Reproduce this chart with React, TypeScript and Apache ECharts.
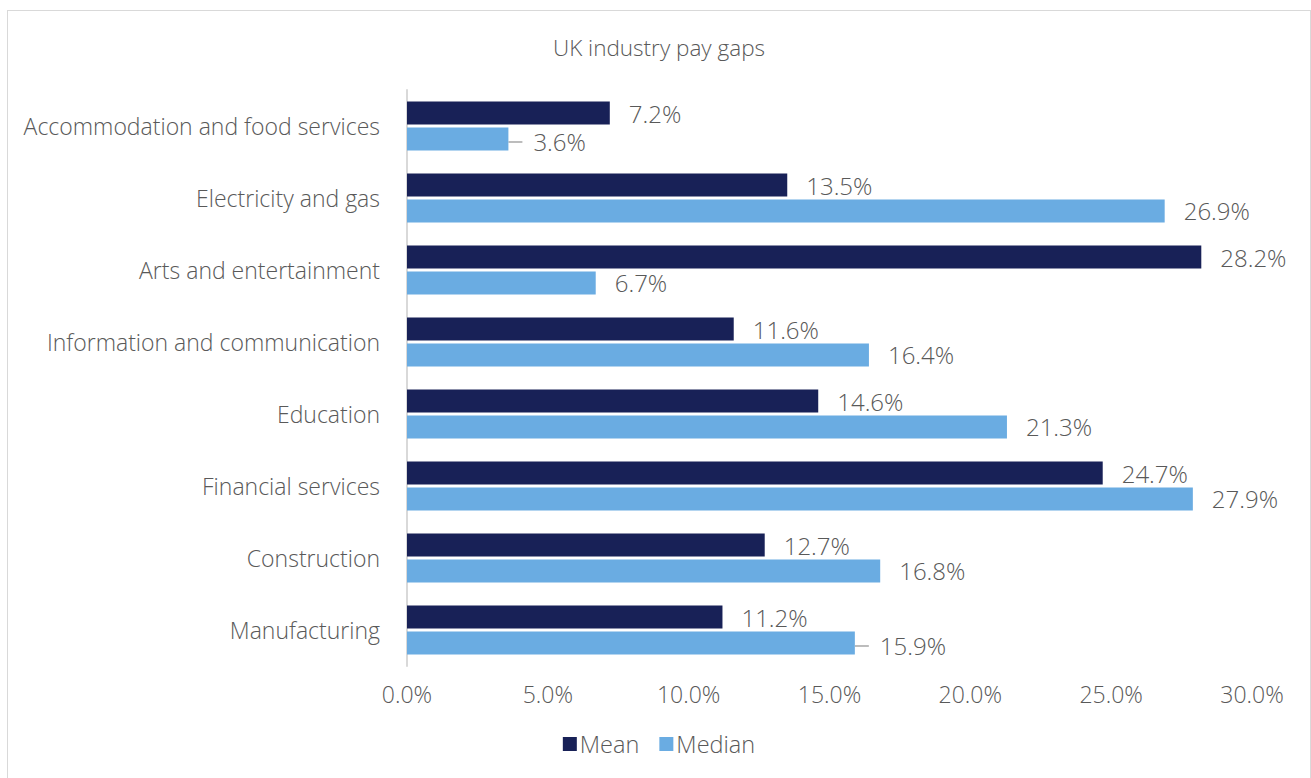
import React, { useEffect, useRef } from "react";
import * as echarts from "echarts";

const categories = [
  "Accommodation and food services",
  "Electricity and gas",
  "Arts and entertainment",
  "Information and communication",
  "Education",
  "Financial services",
  "Construction",
  "Manufacturing",
];
const meanValues = [7.2, 13.5, 28.2, 11.6, 14.6, 24.7, 12.7, 11.2];
const medianValues = [3.6, 26.9, 6.7, 16.4, 21.3, 27.9, 16.8, 15.9];
const leaderIdx = [0, 7];

const FONT = "'Open Sans', 'Noto Sans', sans-serif";
const GRAY = "#595959";
const W = 300;

export default function App() {
  const ref = useRef<HTMLDivElement>(null);
  useEffect(() => {
    if (!ref.current) return;
    const chart = echarts.init(ref.current, null, { renderer: "svg" });
    const labelBase = {
      show: true,
      position: "right",
      distance: 19,
      color: GRAY,
      fontSize: 24,
      fontWeight: W,
      fontFamily: FONT,
      formatter: (p: any) => Number(p.value).toFixed(1) + "%",
    };
    chart.setOption({
      animation: false,
      textStyle: { fontFamily: FONT },
      title: {
        text: "UK industry pay gaps",
        left: "center",
        top: 20,
        textStyle: { color: GRAY, fontSize: 22.5, fontWeight: W, fontFamily: FONT },
      },
      legend: {
        bottom: 17,
        left: "center",
        itemWidth: 14,
        itemHeight: 14,
        itemGap: 20,
        icon: "rect",
        textStyle: { color: GRAY, fontSize: 23.5, fontWeight: W, fontFamily: FONT, padding: [0, 0, 0, -2] },
        data: ["Mean", "Median"],
      },
      grid: { left: 399, right: 58, top: 79, bottom: 112, containLabel: false },
      xAxis: {
        type: "value",
        min: 0,
        max: 30,
        interval: 5,
        splitLine: { show: false },
        axisLine: { show: false },
        axisTick: { show: false },
        axisLabel: {
          color: GRAY,
          fontSize: 23,
          fontWeight: W,
          fontFamily: FONT,
          margin: 16,
          formatter: (v: number) => v.toFixed(1) + "%",
        },
      },
      yAxis: {
        type: "category",
        inverse: true,
        data: categories,
        axisLine: { show: true, lineStyle: { color: "#d9d9d9", width: 2 } },
        axisTick: { show: false },
        axisLabel: { color: GRAY, fontSize: 23, fontWeight: W, fontFamily: FONT, margin: 27 },
      },
      series: [
        {
          name: "Mean",
          type: "bar",
          data: meanValues,
          barWidth: 23,
          barGap: "13%",
          itemStyle: { color: "#182157" },
          label: labelBase,
        },
        {
          name: "Median",
          type: "bar",
          data: medianValues.map((v, i) =>
            leaderIdx.includes(i)
              ? {
                  value: v,
                  label: {
                    distance: 14,
                    padding: [0, 0, 0, 11],
                    backgroundColor: "rgba(255,255,255,0)",
                  },
                  labelLine: { show: true, lineStyle: { color: "#a6a6a6", width: 1.5 } },
                }
              : v
          ),
          barWidth: 23,
          itemStyle: { color: "#6aace2" },
          label: labelBase,
          labelLayout: (p: any) =>
            leaderIdx.includes(p.dataIndex) ? { dy: 3 } : {},
        },
      ],
    });
    return () => chart.dispose();
  }, []);
  return (
    <div
      style={{
        position: "absolute",
        left: 7,
        top: 10,
        width: 1302,
        height: 780,
        borderTop: "1px solid #d9d9d9",
        borderLeft: "1px solid #d9d9d9",
        borderRight: "1px solid #d9d9d9",
        background: "#fff",
      }}
    >
      <div ref={ref} style={{ width: 1302, height: 767 }} />
    </div>
  );
}
